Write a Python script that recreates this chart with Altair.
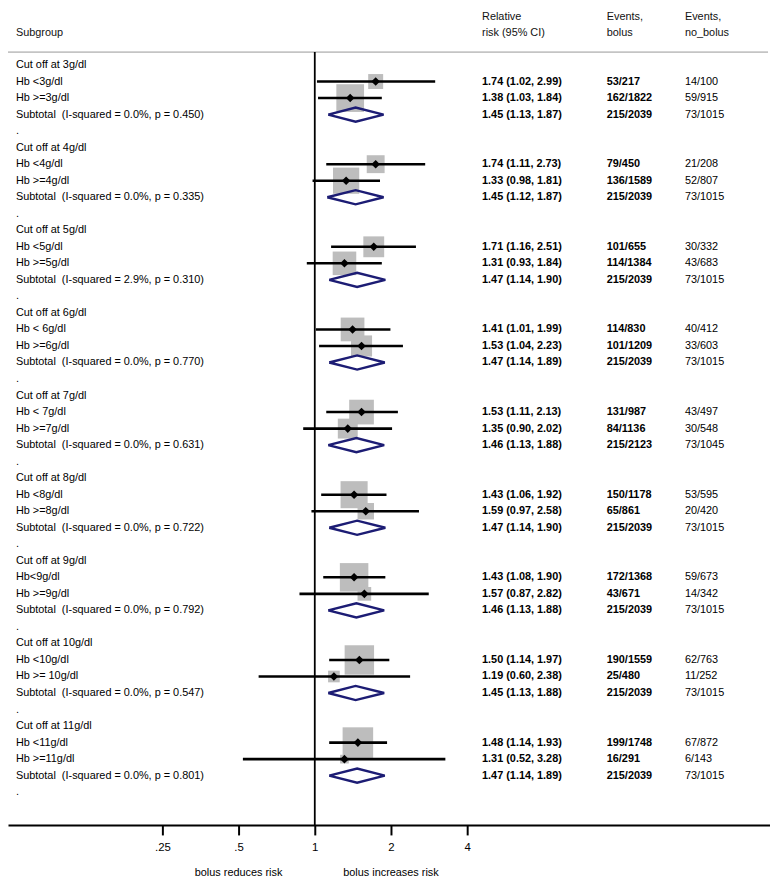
import altair as alt
import pandas as pd

# ---------------- data ----------------
cutoffs = ["Cut off at 3g/dl", "Cut off at 4g/dl", "Cut off at 5g/dl", "Cut off at 6g/dl",
           "Cut off at 7g/dl", "Cut off at 8g/dl", "Cut off at 9g/dl", "Cut off at 10g/dl",
           "Cut off at 11g/dl"]
below_labels = ["Hb <3g/dl", "Hb <4g/dl", "Hb <5g/dl", "Hb < 6g/dl", "Hb < 7g/dl",
                "Hb <8g/dl", "Hb<9g/dl", "Hb <10g/dl", "Hb <11g/dl"]
above_labels = ["Hb >=3g/dl", "Hb >=4g/dl", "Hb >=5g/dl", "Hb >=6g/dl", "Hb >=7g/dl",
                "Hb >=8g/dl", "Hb >=9g/dl", "Hb >= 10g/dl", "Hb >=11g/dl"]
below_rr = [1.74, 1.74, 1.71, 1.41, 1.53, 1.43, 1.43, 1.50, 1.48]
below_lo = [1.02, 1.11, 1.16, 1.01, 1.11, 1.06, 1.08, 1.14, 1.14]
below_hi = [2.99, 2.73, 2.51, 1.99, 2.13, 1.92, 1.90, 1.97, 1.93]
above_rr = [1.38, 1.33, 1.31, 1.53, 1.35, 1.59, 1.57, 1.19, 1.31]
above_lo = [1.03, 0.98, 0.93, 1.04, 0.90, 0.97, 0.87, 0.60, 0.52]
above_hi = [1.84, 1.81, 1.84, 2.23, 2.02, 2.58, 2.82, 2.38, 3.28]
sub_rr = [1.45, 1.45, 1.47, 1.47, 1.46, 1.47, 1.46, 1.45, 1.47]
sub_lo = [1.13, 1.12, 1.14, 1.14, 1.13, 1.14, 1.13, 1.13, 1.14]
sub_hi = [1.87, 1.87, 1.90, 1.89, 1.88, 1.90, 1.88, 1.88, 1.89]
i_squared = ["0.0%", "0.0%", "2.9%", "0.0%", "0.0%", "0.0%", "0.0%", "0.0%", "0.0%"]
p_het = ["0.450", "0.335", "0.310", "0.770", "0.631", "0.722", "0.792", "0.547", "0.801"]
below_bolus = ["53/217", "79/450", "101/655", "114/830", "131/987", "150/1178", "172/1368",
               "190/1559", "199/1748"]
below_nobolus = ["14/100", "21/208", "30/332", "40/412", "43/497", "53/595", "59/673",
                 "62/763", "67/872"]
above_bolus = ["162/1822", "136/1589", "114/1384", "101/1209", "84/1136", "65/861", "43/671",
               "25/480", "16/291"]
above_nobolus = ["59/915", "52/807", "43/683", "33/603", "30/548", "20/420", "14/342",
                 "11/252", "6/143"]
sub_bolus = ["215/2039", "215/2039", "215/2039", "215/2039", "215/2123", "215/2039",
             "215/2039", "215/2039", "215/2039"]
sub_nobolus = ["73/1015", "73/1015", "73/1015", "73/1015", "73/1045", "73/1015",
               "73/1015", "73/1015", "73/1015"]
# study weights (box areas), estimated
below_weight = [13.3, 19.0, 25.8, 33.4, 36.2, 43.5, 48.2, 51.4, 55.4]
above_weight = [45.6, 40.8, 33.0, 26.4, 23.5, 16.1, 11.1, 8.1, 4.5]

header_subgroup = "Subgroup"
header_rr = ["Relative", "risk (95% CI)"]
header_bolus = ["Events,", "bolus"]
header_nobolus = ["Events,", "no_bolus"]
tick_values = [0.25, 0.5, 1, 2, 4]
direction_labels = ["bolus reduces risk", "bolus increases risk"]
direction_at = [0.5, 2]

# ---------------- layout ----------------
W, H = 770, 821
ROW = 16.7
TOP = 53.0          # pixel of first row
PX1 = 310.0         # pixel of RR = 1
PXDBL = 77.0        # pixels per doubling
FONT = "Liberation Sans, Arial, sans-serif"
FS = 11
NAVY = "#1c1c74"

ydom = [-TOP / ROW, (H - TOP) / ROW]
ys = alt.Scale(domain=ydom, reverse=True, nice=False, zero=False)
xs = alt.Scale(type="log", domain=[2 ** (-PX1 / PXDBL), 2 ** ((W - PX1) / PXDBL)],
               range=[0, W], nice=False)
xax = alt.Axis(values=tick_values, title=None, grid=False,
               labelExpr="datum.value < 1 ? replace(toString(datum.value), '0.', '.') : toString(datum.value)",
               domainColor="black", domainWidth=2, tickColor="black", tickWidth=2,
               tickSize=10, labelFont=FONT, labelFontSize=11.5, labelColor="black",
               labelPadding=7)

# ---------------- frames ----------------
studies, texts, diamonds = [], [], []
for g in range(len(cutoffs)):
    base = 5 * g
    texts.append(dict(row=base, label=cutoffs[g], rrt="", ev1="", ev0=""))
    for k, (lab, rr, lo, hi, w, e1, e0) in enumerate([
            (below_labels[g], below_rr[g], below_lo[g], below_hi[g], below_weight[g],
             below_bolus[g], below_nobolus[g]),
            (above_labels[g], above_rr[g], above_lo[g], above_hi[g], above_weight[g],
             above_bolus[g], above_nobolus[g])]):
        r = base + 1 + k
        studies.append(dict(row=r, rr=rr, lo=lo, hi=hi, weight=w))
        texts.append(dict(row=r, label=lab, rrt=f"{rr:.2f} ({lo:.2f}, {hi:.2f})", ev1=e1, ev0=e0))
    r = base + 3
    texts.append(dict(row=r,
                      label=f"Subtotal\u00a0 (I-squared = {i_squared[g]}, p = {p_het[g]})",
                      rrt=f"{sub_rr[g]:.2f} ({sub_lo[g]:.2f}, {sub_hi[g]:.2f})",
                      ev1=sub_bolus[g], ev0=sub_nobolus[g]))
    hh = 0.43
    for k, (xv, yv) in enumerate([(sub_lo[g], r), (sub_rr[g], r - hh), (sub_hi[g], r),
                                  (sub_rr[g], r + hh), (sub_lo[g], r)]):
        diamonds.append(dict(g=g, k=k, x=xv, y=yv))
    texts.append(dict(row=base + 4, label=".", rrt="", ev1="", ev0=""))

studies = pd.DataFrame(studies)
texts = pd.DataFrame(texts)
diamonds = pd.DataFrame(diamonds)

headers = pd.DataFrame([
    dict(row=-1.95, t=header_subgroup, px=8),
    dict(row=-2.9, t=header_rr[0], px=479), dict(row=-1.95, t=header_rr[1], px=479),
    dict(row=-2.9, t=header_bolus[0], px=605), dict(row=-1.95, t=header_bolus[1], px=605),
    dict(row=-2.9, t=header_nobolus[0], px=684), dict(row=-1.95, t=header_nobolus[1], px=684),
])

sep_row = -0.78
sep = alt.Chart(pd.DataFrame({"y": [sep_row]})).mark_rule(color="#c4c4c4", strokeWidth=2).encode(
    y=alt.Y("y:Q", scale=ys, axis=None), x=alt.value(0), x2=alt.value(W - 2))

vline = alt.Chart(pd.DataFrame({"x": [1], "y0": [sep_row], "y1": [ydom[1]]})).mark_rule(
    color="black", strokeWidth=1.8).encode(
    x=alt.X("x:Q", scale=xs, axis=xax), y=alt.Y("y0:Q", scale=ys, axis=None), y2="y1:Q")

boxes = alt.Chart(studies).mark_square(color="#bdbdbd", opacity=1, strokeWidth=0).encode(
    x=alt.X("rr:Q", scale=xs, axis=xax), y=alt.Y("row:Q", scale=ys, axis=None),
    size=alt.Size("weight:Q", scale=alt.Scale(domain=[0, 60], range=[0, 60 * 17.2]), legend=None))

ci = alt.Chart(studies).mark_rule(color="black", strokeWidth=2.6).encode(
    x=alt.X("lo:Q", scale=xs, axis=xax), x2="hi:Q", y=alt.Y("row:Q", scale=ys, axis=None))

pts = alt.Chart(studies).mark_point(shape="diamond", filled=True, color="black", size=75,
                                    opacity=1).encode(
    x=alt.X("rr:Q", scale=xs, axis=xax), y=alt.Y("row:Q", scale=ys, axis=None))

dia = alt.Chart(diamonds).mark_line(color=NAVY, strokeWidth=2.4).encode(
    x=alt.X("x:Q", scale=xs, axis=xax), y=alt.Y("y:Q", scale=ys, axis=None),
    detail="g:N", order="k:Q")


def col(field, px, bold=False):
    return alt.Chart(texts).mark_text(align="left", baseline="middle", font=FONT, fontSize=FS,
                                      color="black",
                                      fontWeight="bold" if bold else "normal").encode(
        x=alt.value(px), y=alt.Y("row:Q", scale=ys, axis=None), text=f"{field}:N")


hdr = alt.Chart(headers).mark_text(align="left", baseline="middle", font=FONT, fontSize=FS,
                                   color="#111111").encode(
    x=alt.X("px:Q", scale=None), y=alt.Y("row:Q", scale=ys, axis=None), text="t:N")

dirs = alt.Chart(pd.DataFrame({"at": direction_at, "t": direction_labels,
                               "row": [48.92, 48.92]})).mark_text(
    align="center", baseline="middle", font=FONT, fontSize=FS, color="black").encode(
    x=alt.X("at:Q", scale=xs, axis=xax), y=alt.Y("row:Q", scale=ys, axis=None), text="t:N")

chart = alt.layer(sep, vline, boxes, ci, pts, dia,
                  col("label", 8), col("rrt", 479, True), col("ev1", 605, True),
                  col("ev0", 684), hdr, dirs).properties(
    width=W, height=H,
    autosize=alt.AutoSizeParams(type="none"),
    padding={"left": 0, "top": 0, "right": 0, "bottom": 58},
).configure_view(stroke=None)

chart.save("out.html", embed_options={"renderer": "svg", "actions": False})
